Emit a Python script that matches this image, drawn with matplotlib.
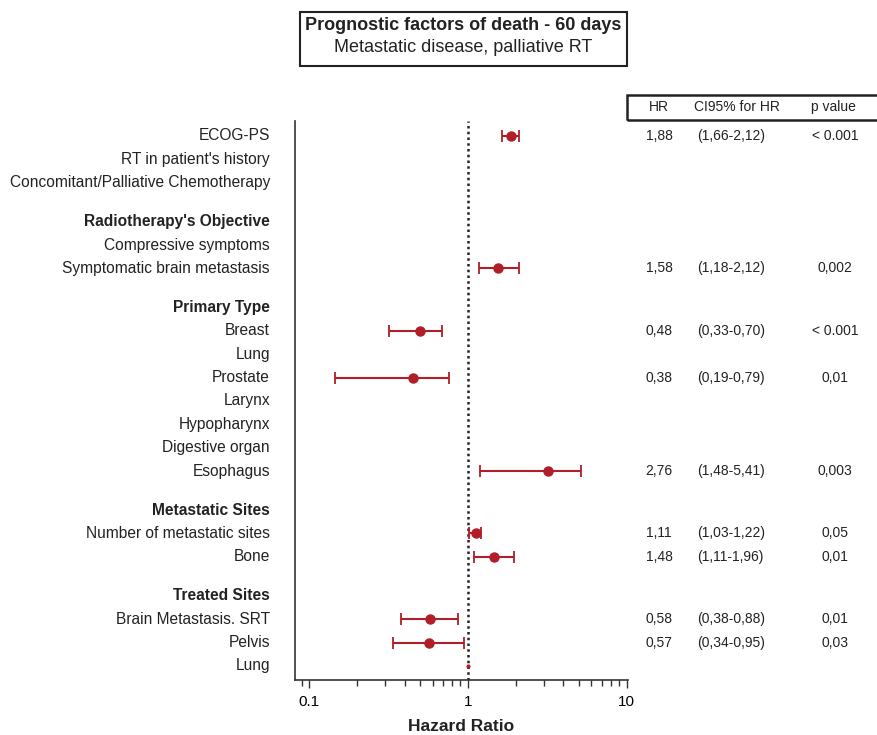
import numpy as np
import matplotlib.pyplot as plt
import matplotlib.transforms as mtransforms
from matplotlib.ticker import FixedLocator, LogLocator, NullFormatter

plt.rcParams['font.family'] = ['Liberation Sans', 'DejaVu Sans']

# rows of the forest plot (header rows are bold, no estimates)
labels = ["ECOG-PS", "RT in patient's history", "Concomitant/Palliative Chemotherapy",
          "Radiotherapy's Objective", "Compressive symptoms", "Symptomatic brain metastasis",
          "Primary Type", "Breast", "Lung", "Prostate", "Larynx", "Hypopharynx",
          "Digestive organ", "Esophagus",
          "Metastatic Sites", "Number of metastatic sites", "Bone",
          "Treated Sites", "Brain Metastasis. SRT", "Pelvis", "Lung"]
is_header = [False, False, False,
             True, False, False,
             True, False, False, False, False, False, False, False,
             True, False, False,
             True, False, False, False]

# plotted estimates read from the marks (nan = not drawn)
nan = np.nan
hr_pt = [1.87, nan, nan, nan, nan, 1.56, nan, 0.50, nan, 0.45, nan, nan, nan, 3.19,
         nan, 1.12, 1.47, nan, 0.577, 0.566, nan]
ci_lo = [1.65, nan, nan, nan, nan, 1.17, nan, 0.317, nan, 0.146, nan, nan, nan, 1.20,
         nan, 1.02, 1.10, nan, 0.381, 0.339, nan]
ci_hi = [2.10, nan, nan, nan, nan, 2.10, nan, 0.686, nan, 0.76, nan, nan, nan, 5.19,
         nan, 1.21, 1.95, nan, 0.873, 0.944, nan]
lung_treated_hr = 1.0

# table columns
hr_txt = ["1,88", "", "", "", "", "1,58", "", "0,48", "", "0,38", "", "", "", "2,76",
          "", "1,11", "1,48", "", "0,58", "0,57", ""]
ci_txt = ["(1,66-2,12)", "", "", "", "", "(1,18-2,12)", "", "(0,33-0,70)", "", "(0,19-0,79)",
          "", "", "", "(1,48-5,41)", "", "(1,03-1,22)", "(1,11-1,96)", "", "(0,38-0,88)",
          "(0,34-0,95)", ""]
p_txt = ["< 0.001", "", "", "", "", "0,002", "", "< 0.001", "", "0,01", "", "", "", "0,003",
         "", "0,05", "0,01", "", "0,01", "0,03", ""]

# y positions: one unit per row, extra gap before section headers
ypos = []
y = 0.0
for i, h in enumerate(is_header):
    if i > 0:
        y += 1.0 + (0.65 if h else 0.0)
    ypos.append(y)
ypos = np.array(ypos)

red = '#B01E28'

fig = plt.figure(figsize=(8.77, 7.35), dpi=100)
ax = fig.add_axes([0.3364, 0.0748, 0.716 - 0.3364, 0.8354 - 0.0748])

hr_pt = np.array(hr_pt)
ci_lo = np.array(ci_lo)
ci_hi = np.array(ci_hi)
m = ~np.isnan(hr_pt)
ax.errorbar(hr_pt[m], ypos[m], xerr=[hr_pt[m] - ci_lo[m], ci_hi[m] - hr_pt[m]],
            fmt='o', color=red, ecolor=red, markersize=6.5, elinewidth=1.5,
            capsize=4.5, capthick=1.3, zorder=3)
ax.plot([lung_treated_hr], [ypos[-1]], 'o', color=red, markersize=2, zorder=3)

ax.axvline(1, color='#222222', linestyle=(0, (1, 1.3)), linewidth=1.8, zorder=2)

ax.set_xscale('log')
ax.set_xlim(0.0817, 10.2)
ax.set_ylim(ypos[-1] + 0.6, -0.64)
ax.xaxis.set_major_locator(FixedLocator([0.1, 1, 10]))
ax.set_xticklabels(["0.1", "1", "10"])
ax.xaxis.set_minor_locator(LogLocator(base=10, subs=np.arange(2, 10) * 0.1 * 10, numticks=20))
ax.xaxis.set_minor_formatter(NullFormatter())
ax.tick_params(axis='x', which='major', length=6, width=1, labelsize=11, pad=5, color='#333333')
ax.tick_params(axis='x', which='minor', length=4, width=1, color='#333333')
ax.set_yticks([])
for s in ['top', 'right']:
    ax.spines[s].set_visible(False)
for s in ['left', 'bottom']:
    ax.spines[s].set_color('#333333')
    ax.spines[s].set_linewidth(1.2)
ax.set_xlabel("Hazard Ratio", fontsize=12.5, fontweight='bold', labelpad=7, color='#222222')

# row labels
trans_lab = mtransforms.blended_transform_factory(fig.transFigure, ax.transData)
for lab, yy, h in zip(labels, ypos, is_header):
    fig.text(270 / 877, yy, lab, transform=trans_lab, ha='right', va='center',
             fontsize=11.2, fontweight='bold' if h else 'normal', color='#222222')

# table values
for yy, a, b, c in zip(ypos, hr_txt, ci_txt, p_txt):
    if a:
        fig.text(659 / 877, yy, a, transform=trans_lab, ha='center', va='center',
                 fontsize=10, color='#222222')
        fig.text(697 / 877, yy, b, transform=trans_lab, ha='left', va='center',
                 fontsize=10, color='#222222')
        fig.text(835 / 877, yy, c, transform=trans_lab, ha='center', va='center',
                 fontsize=10, color='#222222')

# table header box
hdr_y = 1 - 107 / 735
fig.patches.append(plt.Rectangle((627 / 877, 1 - 120 / 735), 260 / 877, 25 / 735,
                                 transform=fig.transFigure, fill=False,
                                 edgecolor='#222222', linewidth=1.8))
fig.text(659 / 877, hdr_y, "HR", ha='center', va='center', fontsize=10, color='#222222')
fig.text(737 / 877, hdr_y, "CI95% for HR", ha='center', va='center', fontsize=10,
         color='#222222')
fig.text(833 / 877, hdr_y, "p value", ha='center', va='center', fontsize=10, color='#222222')

# title box
fig.patches.append(plt.Rectangle((300 / 877, 1 - 66 / 735), 327 / 877, 54 / 735,
                                 transform=fig.transFigure, fill=False,
                                 edgecolor='#222222', linewidth=1.5))
fig.text(463 / 877, 1 - 26 / 735, "Prognostic factors of death - 60 days", ha='center',
         va='center', fontsize=13, fontweight='bold', color='#222222')
fig.text(463 / 877, 1 - 48 / 735, "Metastatic disease, palliative RT", ha='center',
         va='center', fontsize=13, color='#222222')

fig.savefig("out.png", dpi=100)
